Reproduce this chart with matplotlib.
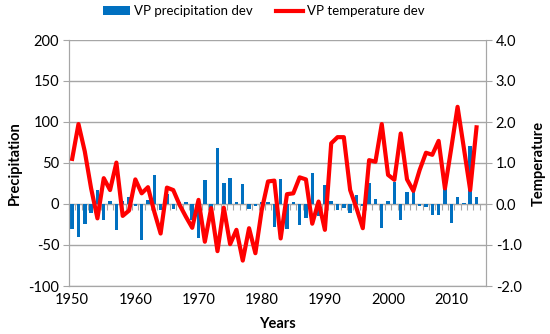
import numpy as np
import matplotlib.pyplot as plt
from matplotlib.patches import Patch
from matplotlib.lines import Line2D

plt.rcParams['font.family'] = ['Lato', 'DejaVu Sans']

# Данные
years = np.arange(1950, 2015)
precip_dev = [
    -30, -40, -24, -11, 17, -20, 4, -32, 4, 9,
    -3, -44, 5, 35, -7, 12, -6, 2, 3, -19,
    -41, 29, -6, 68, 26, 32, 3, 24, -6, -3,
    2, 2, -28, 30, -30, 3, -26, -17, 38, -15,
    23, 4, -7, -5, -11, 11, -2, 26, 6, -29,
    4, 27, -19, 15, 16, -2, -4, -14, -14, 19,
    -23, 9, 1, 71, 9,
]
temp_dev = [
    1.10, 1.95, 1.28, 0.38, -0.35, 0.63, 0.34, 1.01, -0.29, -0.16,
    0.60, 0.26, 0.41, -0.19, -0.72, 0.40, 0.34, -0.02, -0.31, -0.58,
    0.10, -0.92, -0.10, -1.15, -0.09, -0.98, -0.63, -1.38, -0.59, -1.20,
    -0.15, 0.55, 0.57, -0.84, 0.24, 0.26, 0.65, 0.60, -0.48, 0.06,
    -0.63, 1.48, 1.63, 1.63, 0.34, -0.10, -0.59, 1.07, 1.03, 1.95,
    0.71, 0.59, 1.72, 0.60, 0.32, 0.83, 1.25, 1.20, 1.54, 0.38,
    1.36, 2.37, 1.36, 0.34, 1.87,
]
left_ticks = [-100, -50, 0, 50, 100, 150, 200]
right_ticks = [-2.0, -1.0, 0.0, 1.0, 2.0, 3.0, 4.0]
x_ticks = [1950, 1960, 1970, 1980, 1990, 2000, 2010]

blue = '#0070C0'
red = '#FF0000'
grid_c = '#A6A6A6'
fs = 10.5

fig = plt.figure(figsize=(5.5, 3.34), dpi=100)
ax = fig.add_axes([69 / 550, 1 - 286 / 334, (486 - 69) / 550, (286 - 40) / 334])

# Столбцы осадков
ax.bar(years, precip_dev, width=0.55, color=blue, zorder=2)
ax.set_xlim(1949.5, 2015.5)
ax.set_ylim(-100, 200)
ax.set_yticks(left_ticks)
ax.set_yticklabels([str(v) for v in left_ticks], fontsize=fs)
ax.yaxis.grid(True, color=grid_c, linewidth=1.0, zorder=0)
ax.set_axisbelow(True)
ax.set_xticks(x_ticks)
ax.set_xticklabels([str(v) for v in x_ticks], fontsize=fs)
ax.tick_params(axis='x', length=0, pad=5)
ax.tick_params(axis='y', length=4, color=grid_c, pad=3)
ax.spines['top'].set_visible(False)
for s in ['left', 'right', 'bottom']:
    ax.spines[s].set_color(grid_c)
ax.set_xlabel('Years', fontsize=fs, fontweight='bold', labelpad=7)
ax.set_ylabel('Precipitation', fontsize=fs, fontweight='bold', labelpad=5)

# Ось категорий на нуле
sec = ax.secondary_xaxis(1 / 3)
sec.set_xticks(np.arange(1949.5, 2016, 1.0))
sec.set_xticklabels([])
sec.tick_params(axis='x', direction='out', length=4, color=grid_c)
sec.spines['bottom'].set_color(grid_c)

# Температура
ax2 = ax.twinx()
ax2.plot(years, temp_dev, color=red, linewidth=3.0, zorder=3)
ax2.set_ylim(-2.0, 4.0)
ax2.set_yticks(right_ticks)
ax2.set_yticklabels(['%.1f' % v for v in right_ticks], fontsize=fs)
ax2.tick_params(axis='y', length=4, color=grid_c, pad=3)
ax2.spines['top'].set_visible(False)
for s in ['left', 'right', 'bottom']:
    ax2.spines[s].set_color(grid_c)
ax2.set_ylabel('Temperature', fontsize=fs, fontweight='bold', labelpad=7)

handles = [Patch(facecolor=blue, edgecolor='none'),
           Line2D([0], [0], color=red, linewidth=3)]
fig.legend(handles, ['VP precipitation dev', 'VP temperature dev'],
           loc='upper center', bbox_to_anchor=(0.479, 1.02), ncol=2,
           frameon=False, fontsize=9.5, handlelength=2.1, handletextpad=0.25,
           columnspacing=1.75)

plt.savefig('out.png', dpi=100)
